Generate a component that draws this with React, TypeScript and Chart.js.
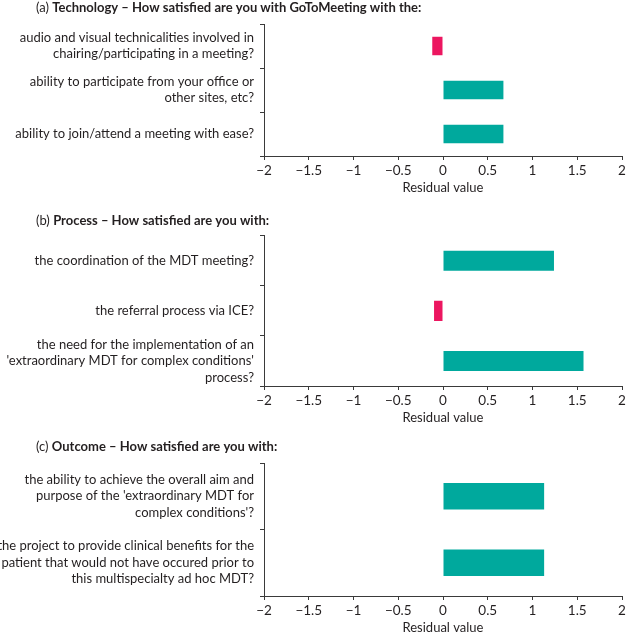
import React, { useEffect, useRef } from "react";
import { Chart, registerables } from "chart.js";

Chart.register(...registerables);

const FONT = "Lato, 'Liberation Sans', sans-serif";
const TEXT = "#231f20";
const AXIS = "#3a3a3a";
const TEAL = "#00a99d";
const PINK = "#ec1660";

// Panel (a) Technology
const titlePrefixA = "(a) ";
const titleA = "Technology – How satisfied are you with GoToMeeting with the:";
const categoriesA: (string | string[])[] = [
  ["audio and visual technicalities involved in", "chairing/participating in a meeting?"],
  ["ability to participate from your office or", "other sites, etc?"],
  "ability to join/attend a meeting with ease?",
];
const valuesA = [-0.12, 0.675, 0.675];

// Panel (b) Process
const titlePrefixB = "(b) ";
const titleB = "Process – How satisfied are you with:";
const categoriesB: (string | string[])[] = [
  "the coordination of the MDT meeting?",
  "the referral process via ICE?",
  ["the need for the implementation of an", "'extraordinary MDT for complex conditions'", "process?"],
];
const valuesB = [1.24, -0.1, 1.57];

// Panel (c) Outcome
const titlePrefixC = "(c) ";
const titleC = "Outcome – How satisfied are you with:";
const categoriesC: (string | string[])[] = [
  ["the ability to achieve the overall aim and", "purpose of the 'extraordinary MDT for", "complex conditions'?"],
  ["the project to provide clinical benefits for the", "patient that would not have occured prior to", "this multispecialty ad hoc MDT?"],
];
const valuesC = [1.13, 1.13];

// Shared axis
const xMin = -2;
const xMax = 2;
const xStep = 0.5;
const xAxisTitle = "Residual value";

const panelTitlePlugin = {
  id: "panelTitle",
  afterDraw(chart: any, _args: any, opts: any) {
    const ctx = chart.ctx;
    ctx.save();
    ctx.textBaseline = "middle";
    ctx.textAlign = "left";
    ctx.fillStyle = TEXT;
    ctx.font = `13px ${FONT}`;
    let x = opts.x;
    ctx.fillText(opts.prefix, x, opts.y);
    x += ctx.measureText(opts.prefix).width;
    ctx.font = `bold 13px ${FONT}`;
    ctx.fillText(opts.text, x, opts.y);
    ctx.restore();
  },
};

type PanelProps = {
  top: number;
  height: number;
  prefix: string;
  title: string;
  titleY: number;
  categories: (string | string[])[];
  values: number[];
  padTop: number;
  padBottom: number;
  barPct: number;
};

function Panel(p: PanelProps) {
  const ref = useRef<HTMLCanvasElement | null>(null);
  useEffect(() => {
    if (!ref.current) return;
    const chart = new Chart(ref.current, {
      type: "bar",
      data: {
        labels: p.categories,
        datasets: [
          {
            data: p.values,
            backgroundColor: p.values.map((v) => (v < 0 ? PINK : TEAL)),
            borderWidth: 0,
            barPercentage: p.barPct,
            categoryPercentage: 1,
          },
        ],
      },
      plugins: [panelTitlePlugin],
      options: {
        indexAxis: "y",
        responsive: false,
        animation: false,
        layout: { padding: { top: p.padTop, bottom: p.padBottom, left: 0, right: 4 } },
        plugins: {
          legend: { display: false },
          tooltip: { enabled: false },
          panelTitle: { prefix: p.prefix, text: p.title, x: 36, y: p.titleY },
        } as any,
        scales: {
          x: {
            type: "linear",
            min: xMin,
            max: xMax,
            afterFit: (s: any) => {
              s.height = 40;
              s.paddingRight = 0;
              s.paddingLeft = 0;
            },
            ticks: {
              stepSize: xStep,
              padding: 3,
              color: TEXT,
              font: { family: FONT, size: 13.5 },
              callback: (v: any) => String(v).replace("-", "\u2212"),
            },
            grid: { drawOnChartArea: false, drawTicks: true, tickLength: 4, color: AXIS },
            border: { display: true, color: AXIS, width: 1 },
            title: {
              display: true,
              text: xAxisTitle,
              color: TEXT,
              font: { family: FONT, size: 13 },
              padding: { top: 0, bottom: 0 },
            },
          },
          y: {
            type: "category",
            afterFit: (s: any) => {
              s.width = 264;
            },
            ticks: {
              autoSkip: false,
              padding: 6,
              color: TEXT,
              font: { family: FONT, size: 13, lineHeight: 1.27 },
            },
            grid: { offset: true, drawOnChartArea: false, drawTicks: true, tickLength: 4, color: AXIS },
            border: { display: true, color: AXIS, width: 1 },
          },
        },
      } as any,
    });
    return () => chart.destroy();
  }, []);
  return (
    <canvas
      ref={ref}
      width={626}
      height={p.height}
      style={{ position: "absolute", left: 0, top: p.top, width: 626, height: p.height }}
    />
  );
}

export default function App() {
  return (
    <div style={{ position: "fixed", left: 0, top: 0, width: 626, height: 637, background: "#fff" }}>
      <Panel top={0} height={205} prefix={titlePrefixA} title={titleA} titleY={8}
        categories={categoriesA} values={valuesA} padTop={24} padBottom={9} barPct={0.42} />
      <Panel top={205} height={227} prefix={titlePrefixB} title={titleB} titleY={16}
        categories={categoriesB} values={valuesB} padTop={30} padBottom={6} barPct={0.4} />
      <Panel top={432} height={205} prefix={titlePrefixC} title={titleC} titleY={15}
        categories={categoriesC} values={valuesC} padTop={31} padBottom={1} barPct={0.4} />
    </div>
  );
}
